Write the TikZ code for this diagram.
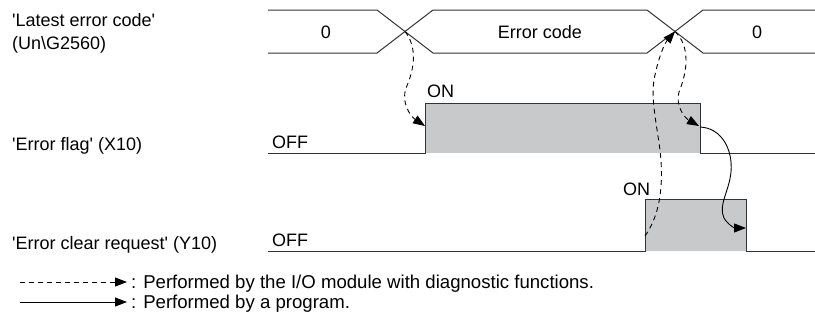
\documentclass[tikz,border=0pt]{standalone}
\usepackage{fontspec}
\setmainfont{Liberation Sans}
\usetikzlibrary{arrows.meta}
\definecolor{sig}{HTML}{333333}
\definecolor{onfill}{HTML}{C8C9CA}
\newcommand{\q}{\textquotesingle}
\begin{document}
\begin{tikzpicture}[x=1pt,y=-1pt,
  txt/.style={inner sep=0pt,font=\fontsize{18}{22}\selectfont},
  legtxt/.style={inner sep=0pt,font=\fontsize{18.6}{22}\selectfont},
  sigline/.style={draw=sig,line width=1pt},
  tip/.style={-{Triangle[length=12pt,width=9pt]}},
  diagarrow/.style={tip,draw=black,line width=0.9pt,dash pattern=on 5pt off 4pt},
  progarrow/.style={tip,draw=black,line width=0.9pt}]
\useasboundingbox (0,0) rectangle (815,322);
% labels
\node[txt,anchor=base west] (lec1) at (12,26.5) {\q Latest error code\q};
\node[txt,anchor=base west] (lec2) at (12,49.5) {(Un\textbackslash G2560)};
\node[txt,anchor=base west] (lflag) at (12,150) {\q Error flag\q{} (X10)};
\node[txt,anchor=base west] (lclr) at (12,249) {\q Error clear request\q{} (Y10)};
% latest error code bus
\draw[sigline] (268,10) -- (377,10) -- (433,53) -- (647,53) -- (703,10) -- (815,10);
\draw[sigline] (268,53) -- (377,53) -- (433,10) -- (647,10) -- (703,53) -- (815,53);
\coordinate (x1) at (405,31.5);
\coordinate (x2) at (675,31.5);
\node[txt,anchor=base] (v0a) at (326,38.5) {0};
\node[txt,anchor=base] (vec) at (540,38.5) {Error code};
\node[txt,anchor=base] (v0b) at (757,38.5) {0};
% error flag
\fill[onfill] (425,103) rectangle (700,153);
\draw[sigline] (268,153) -- (425,153) -- (425,103) -- (700,103) -- (700,153) -- (815,153);
\node[txt,anchor=base west] (off1) at (272,148) {OFF};
\node[txt,anchor=base west] (on1) at (427,97) {ON};
\coordinate (frise) at (425,126);
\coordinate (ffall) at (699,126);
\coordinate (ffallout) at (700,127);
% error clear request
\fill[onfill] (645,199) rectangle (746,251);
\draw[sigline] (268,251) -- (645,251) -- (645,199) -- (746,199) -- (746,251) -- (815,251);
\node[txt,anchor=base west] (off2) at (272,246) {OFF};
\node[txt,anchor=base west] (on2) at (623,195) {ON};
\coordinate (crise) at (645,236);
\coordinate (cfall) at (746,228);
% connectors
\draw[diagarrow] (x1) .. controls (418,48) and (414,70) .. (406,88) .. controls (401,102) and (410,116) .. (frise);
\draw[diagarrow] (crise) .. controls (660,215) and (664,185) .. (660,150) .. controls (656,120) and (650,95) .. (655,75) .. controls (658,60) and (664,44) .. (x2);
\draw[diagarrow] (x2) .. controls (690,46) and (688,70) .. (679,92) .. controls (675,106) and (685,118) .. (ffall);
\draw[progarrow] (ffallout) .. controls (722,128) and (733,150) .. (731,172) .. controls (729,192) and (718,205) .. (724,218) .. controls (728,225) and (735,228) .. (cfall);
% legend
\coordinate (ld1) at (20,282);
\coordinate (ld2) at (127,282);
\coordinate (lp1) at (20,302);
\coordinate (lp2) at (127,302);
\draw[diagarrow] (ld1) -- (ld2);
\draw[progarrow] (lp1) -- (lp2);
\node[legtxt,anchor=base west] (leg1) at (131,288.5) {: Performed by the I/O module with diagnostic functions.};
\node[legtxt,anchor=base west] (leg2) at (131,308.5) {: Performed by a program.};
\end{tikzpicture}
\end{document}
